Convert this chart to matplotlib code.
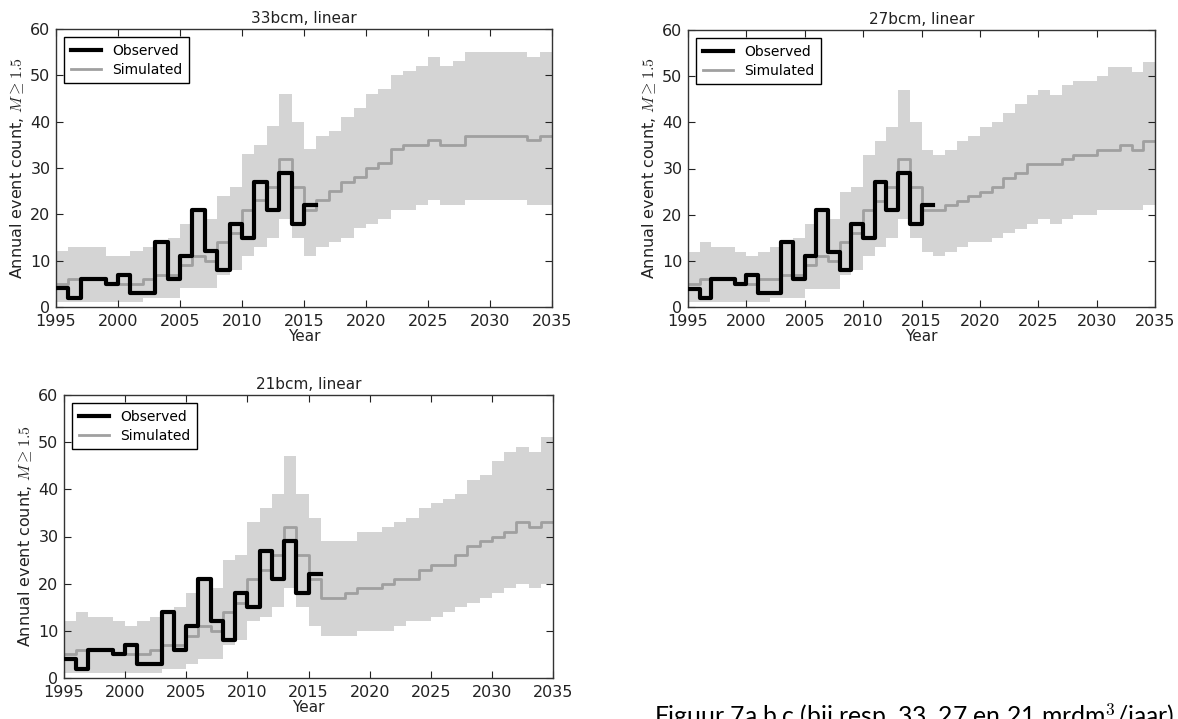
"""
Annual event counts (M >= 1.5): observed history vs. simulated
scenarios for three production levels, linear model.
"""

import matplotlib
matplotlib.use('Agg')  # Non-interactive backend
import matplotlib.pyplot as plt
import numpy as np

# Year edges of the annual bins
first_year = 1995
last_year = 2035

# Observed annual counts, 1995-2015
observed = [4, 2, 6, 6, 5, 7, 3, 3, 14, 6, 11, 21, 12, 8, 18, 15, 27, 21, 29, 18, 22]

# Simulated median and band per scenario, 1995-2034
median_33 = [5, 6, 6, 6, 5, 5, 5, 6, 7, 7,
             9, 11, 10, 14, 16, 21, 23, 26, 32, 26,
             21, 23, 25, 27, 28, 30, 31, 34, 35, 35,
             36, 35, 35, 37, 37, 37, 37, 37, 36, 37]
upper_33 = [12, 13, 13, 13, 11, 11, 12, 13, 14, 15,
            18, 21, 19, 24, 26, 33, 35, 39, 46, 40,
            34, 37, 38, 41, 43, 46, 47, 50, 51, 52,
            54, 52, 53, 55, 55, 55, 55, 55, 54, 55]
lower_33 = [1, 1, 1, 1, 1, 1, 1, 2, 2, 2,
            4, 4, 4, 7, 8, 11, 13, 15, 19, 15,
            11, 13, 14, 15, 17, 18, 19, 21, 21, 22,
            23, 22, 22, 23, 23, 23, 23, 23, 22, 22]

median_27 = [5, 6, 6, 6, 5, 5, 6, 6, 7, 7,
             9, 11, 10, 14, 16, 21, 23, 26, 32, 26,
             21, 21, 22, 23, 24, 25, 26, 28, 29, 31,
             31, 31, 32, 33, 33, 34, 34, 35, 34, 36]
upper_27 = [12, 14, 13, 13, 12, 11, 12, 13, 14, 15,
            18, 21, 19, 25, 26, 33, 36, 39, 47, 40,
            34, 33, 34, 36, 37, 39, 40, 42, 44, 46,
            47, 46, 48, 49, 49, 50, 52, 52, 51, 53]
lower_27 = [1, 1, 1, 1, 1, 1, 1, 2, 2, 2,
            4, 4, 4, 7, 8, 11, 13, 15, 19, 15,
            12, 11, 12, 13, 14, 14, 15, 16, 17, 18,
            19, 18, 19, 20, 20, 21, 21, 21, 21, 22]

median_21 = [5, 6, 6, 6, 5, 5, 5, 6, 7, 7,
             9, 11, 10, 14, 16, 21, 23, 26, 32, 26,
             21, 17, 17, 18, 19, 19, 20, 21, 21, 23,
             24, 24, 26, 28, 29, 30, 31, 33, 32, 33]
upper_21 = [12, 14, 13, 13, 12, 11, 12, 13, 14, 15,
            18, 21, 19, 25, 26, 33, 36, 39, 47, 39,
            34, 29, 29, 29, 31, 31, 32, 33, 34, 36,
            37, 38, 39, 42, 43, 46, 48, 49, 48, 51]
lower_21 = [1, 1, 1, 1, 1, 1, 1, 1, 2, 2,
            3, 4, 4, 7, 8, 12, 13, 15, 19, 15,
            11, 9, 9, 9, 10, 10, 10, 11, 12, 12,
            13, 14, 15, 16, 17, 18, 19, 20, 19, 20]

titles = ['33bcm, linear', '27bcm, linear', '21bcm, linear']
x_ticks = [1995, 2000, 2005, 2010, 2015, 2020, 2025, 2030, 2035]
y_ticks = [0, 10, 20, 30, 40, 50, 60]
caption = 'Figuur 7a,b,c (bij resp. 33, 27 en 21 mrdm$^3$/jaar)'

plt.rcParams['mathtext.fontset'] = 'cm'
plt.rcParams['font.family'] = 'DejaVu Sans'

W, H = 1178, 719


def axes_rect(left, top, right, bottom):
    """Pixel box -> figure fraction rect."""
    return [left / W, 1 - bottom / H, (right - left) / W, (bottom - top) / H]


def with_last(values):
    """Repeat the last value so a post-step covers the final bin."""
    return np.append(values, values[-1])


def draw_panel(ax, title, median, upper, lower):
    edges = np.arange(first_year, last_year + 1)
    obs_edges = np.arange(first_year, first_year + len(observed) + 1)

    # Simulated spread and median
    ax.fill_between(edges, with_last(lower), with_last(upper), step='post',
                    color='#d4d4d4', linewidth=0, zorder=1)
    ax.step(edges, with_last(median), where='post', color='#a0a0a0',
            linewidth=2, label='Simulated', zorder=2)

    # Observed history
    ax.step(obs_edges, with_last(observed), where='post', color='black',
            linewidth=3, label='Observed', zorder=3)

    ax.set_xlim(first_year, last_year)
    ax.set_ylim(0, 60)
    ax.set_xticks(x_ticks)
    ax.set_yticks(y_ticks)
    ax.tick_params(direction='in', top=True, right=True, length=5,
                   width=0.8, labelsize=11.5, colors='#222222', pad=4)
    ax.tick_params(axis='x', pad=5)
    for spine in ax.spines.values():
        spine.set_color('#333333')
        spine.set_linewidth(1)

    ax.set_title(title, fontsize=11, color='#222222', pad=4)
    ax.set_xlabel('Year', fontsize=11, color='#222222', labelpad=0)
    ax.set_ylabel(r'Annual event count, $M \geq 1.5$', fontsize=11.5,
                  color='#222222', labelpad=3)

    handles, labels = ax.get_legend_handles_labels()
    leg = ax.legend(handles[::-1], labels[::-1], loc='upper left',
                    fontsize=10, fancybox=False, framealpha=1,
                    handlelength=2.2, borderpad=0.45, labelspacing=0.4,
                    borderaxespad=0.6, handletextpad=0.8)
    leg.get_frame().set_edgecolor('black')
    leg.get_frame().set_linewidth(1)


fig = plt.figure(figsize=(W / 100, H / 100), dpi=100)

panels = [
    (axes_rect(56, 29, 552, 307), titles[0], median_33, upper_33, lower_33),
    (axes_rect(688, 30, 1155, 307), titles[1], median_27, upper_27, lower_27),
    (axes_rect(64, 395, 553, 678), titles[2], median_21, upper_21, lower_21),
]

for rect, title, med, hi, lo in panels:
    ax = fig.add_axes(rect)
    draw_panel(ax, title, med, hi, lo)

# Caption sits at the page edge, partly cut off
fig.text(654 / W, 1 - 725 / H, caption, fontsize=17.8, family='Lato',
         ha='left', va='baseline', color='black')

fig.savefig('out.png', dpi=100)
plt.close(fig)
